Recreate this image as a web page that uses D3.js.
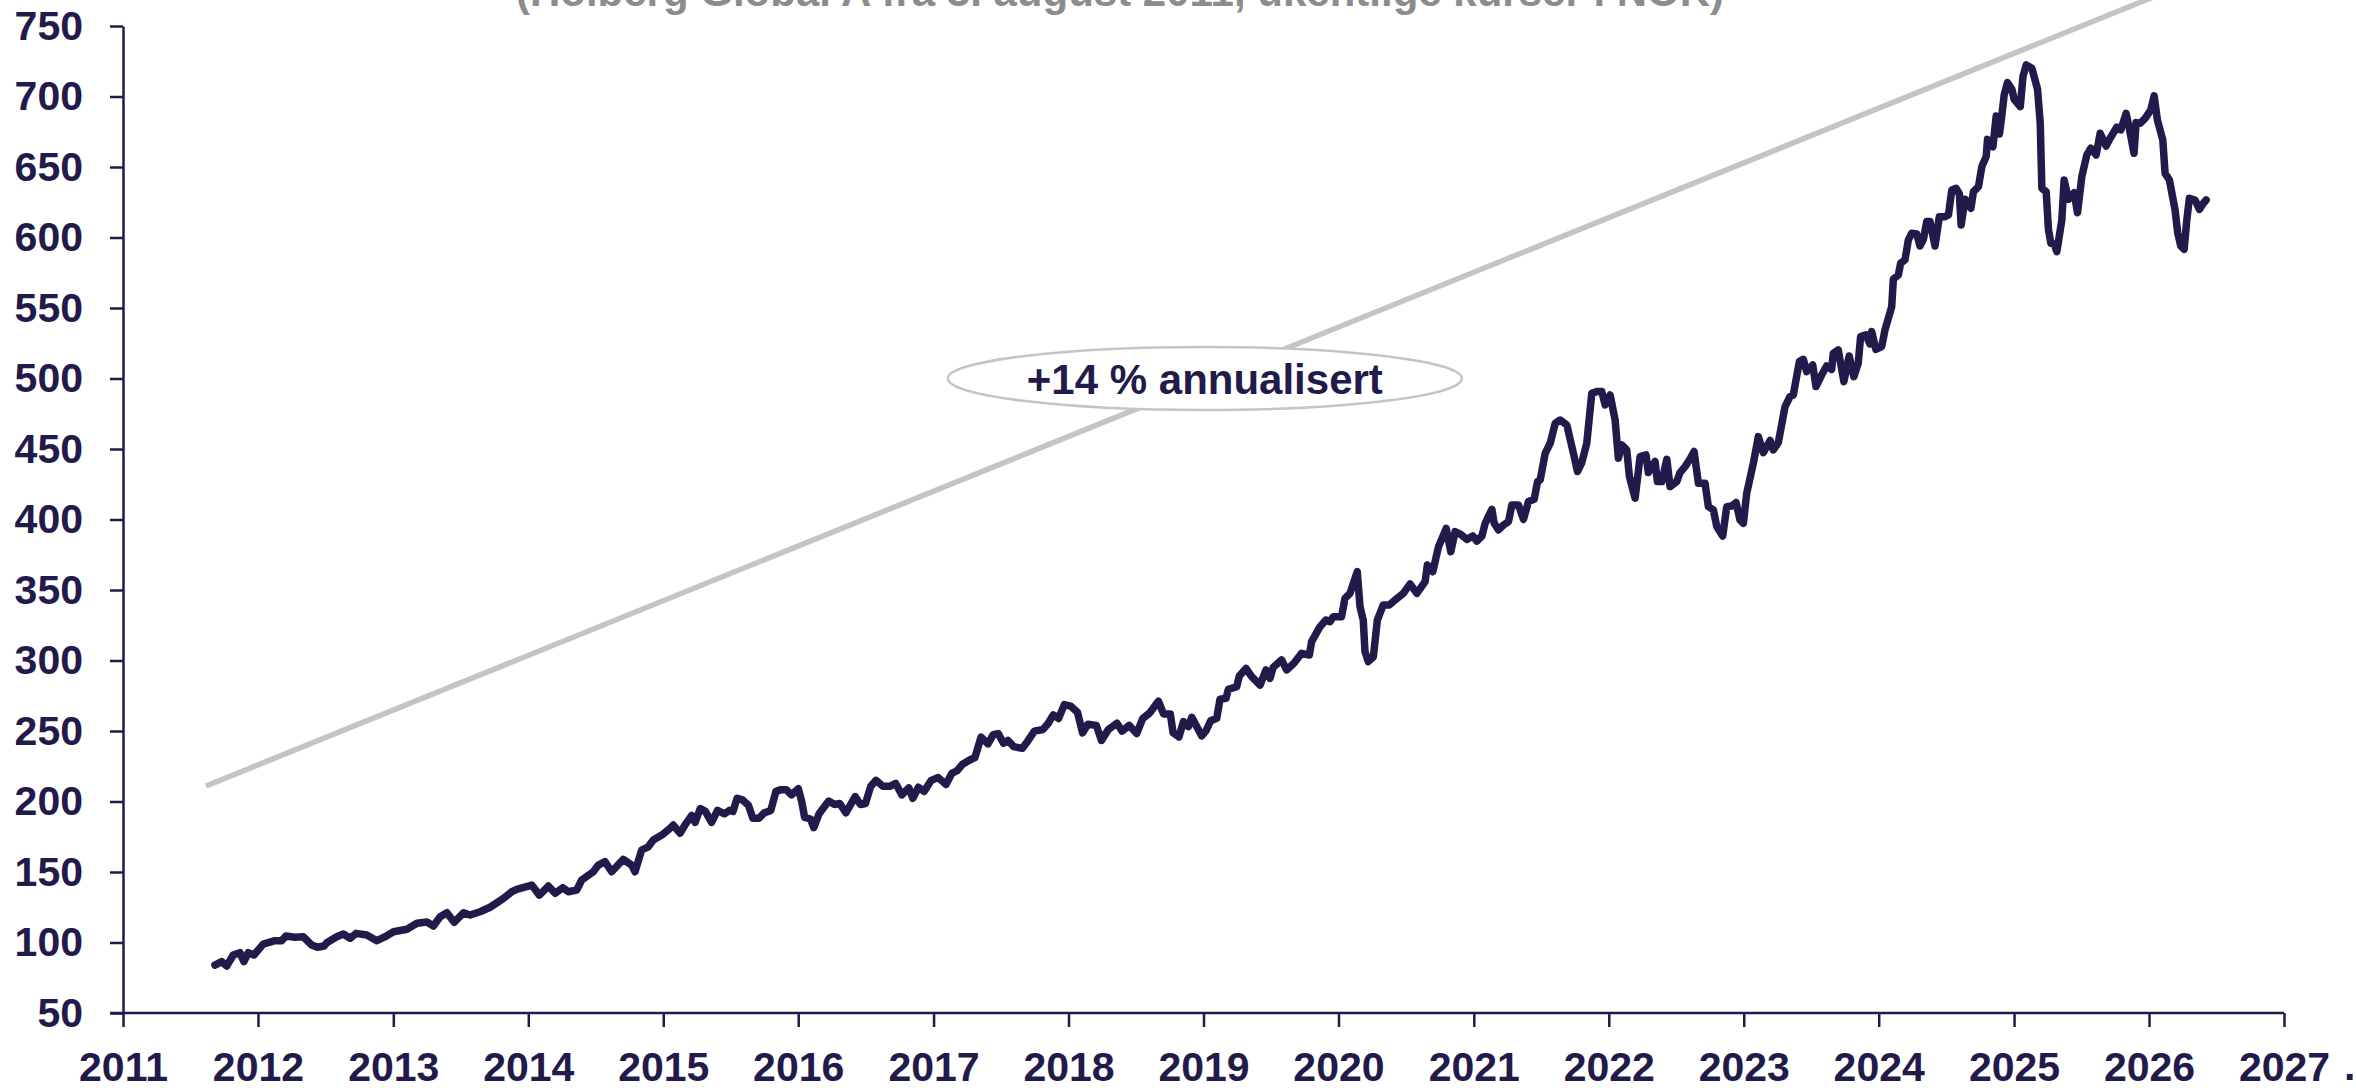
<!DOCTYPE html>
<html>
<head>
<meta charset="utf-8">
<script src="https://cdn.jsdelivr.net/npm/d3@7"></script>
<style>
    body { margin: 0; background: #ffffff; }
    #chart { width: 2356px; height: 1088px; }
</style>
</head>
<body>
<div id="chart"></div>
<script>
// Holberg Global A, weekly prices, x as decimal years
const subtitle = '(Holberg Global A fra 3. august 2011, ukentlige kurser i NOK)';
const annotationText = '+14 % annualisert';

const weekYears = [
    2011.681, 2011.731, 2011.768, 2011.817, 2011.866, 2011.896, 2011.928, 2011.970,
    2012.039, 2012.125, 2012.175, 2012.207, 2012.273, 2012.335, 2012.397, 2012.439, 2012.488, 2012.508, 2012.582, 2012.631, 2012.681, 2012.725, 2012.804, 2012.878, 2012.940,
    2013.001, 2013.101, 2013.175, 2013.249, 2013.297, 2013.347, 2013.397, 2013.451, 2013.520, 2013.569, 2013.643, 2013.717, 2013.779, 2013.816, 2013.878, 2013.915,
    2014.026, 2014.082, 2014.149, 2014.199, 2014.256, 2014.297, 2014.359, 2014.396, 2014.482, 2014.519, 2014.569, 2014.618, 2014.704, 2014.766, 2014.791, 2014.840, 2014.889, 2014.926, 2014.989,
    2015.050, 2015.074, 2015.124, 2015.160, 2015.211, 2015.236, 2015.274, 2015.312, 2015.358, 2015.402, 2015.453, 2015.491, 2015.517, 2015.547, 2015.588, 2015.631, 2015.664, 2015.708, 2015.746, 2015.797, 2015.835, 2015.873, 2015.911, 2015.950,
    2016.001, 2016.026, 2016.047, 2016.090, 2016.115, 2016.154, 2016.225, 2016.269, 2016.307, 2016.352, 2016.421, 2016.460, 2016.497, 2016.536, 2016.575, 2016.626, 2016.677, 2016.720, 2016.766, 2016.817, 2016.847, 2016.888, 2016.931, 2016.983,
    2017.034, 2017.092, 2017.135, 2017.174, 2017.212, 2017.271, 2017.306, 2017.352, 2017.403, 2017.442, 2017.479, 2017.518, 2017.551, 2017.594, 2017.658, 2017.696, 2017.747, 2017.811, 2017.850, 2017.887, 2017.926, 2017.969,
    2018.015, 2018.066, 2018.104, 2018.143, 2018.206, 2018.244, 2018.295, 2018.359, 2018.397, 2018.449, 2018.505, 2018.550, 2018.601, 2018.666, 2018.704, 2018.754, 2018.775, 2018.818, 2018.851, 2018.888, 2018.913, 2018.950, 2018.987,
    2019.019, 2019.053, 2019.098, 2019.122, 2019.167, 2019.184, 2019.246, 2019.265, 2019.315, 2019.357, 2019.419, 2019.463, 2019.493, 2019.517, 2019.579, 2019.616, 2019.670, 2019.727, 2019.784, 2019.801, 2019.863, 2019.907, 2019.937, 2019.961,
    2020.023, 2020.048, 2020.085, 2020.139, 2020.159, 2020.183, 2020.196, 2020.220, 2020.258, 2020.287, 2020.331, 2020.376, 2020.418, 2020.479, 2020.529, 2020.579, 2020.640, 2020.657, 2020.697, 2020.739, 2020.776, 2020.796, 2020.830, 2020.862, 2020.899, 2020.949, 2020.993,
    2021.023, 2021.060, 2021.084, 2021.134, 2021.151, 2021.183, 2021.220, 2021.257, 2021.282, 2021.331, 2021.368, 2021.405, 2021.447, 2021.472, 2021.492, 2021.529, 2021.566, 2021.603, 2021.640, 2021.689, 2021.738, 2021.768, 2021.800, 2021.837, 2021.874, 2021.911, 2021.948, 2021.973,
    2022.010, 2022.047, 2022.071, 2022.096, 2022.133, 2022.153, 2022.195, 2022.232, 2022.276, 2022.293, 2022.343, 2022.360, 2022.393, 2022.430, 2022.454, 2022.504, 2022.528, 2022.565, 2022.597, 2022.632, 2022.664, 2022.713, 2022.738, 2022.775, 2022.800, 2022.844, 2022.874, 2022.911, 2022.943, 2022.972, 2022.997,
    2023.022, 2023.071, 2023.108, 2023.145, 2023.195, 2023.219, 2023.256, 2023.306, 2023.343, 2023.367, 2023.412, 2023.441, 2023.466, 2023.511, 2023.535, 2023.577, 2023.614, 2023.651, 2023.663, 2023.700, 2023.742, 2023.781, 2023.816, 2023.848, 2023.866, 2023.905, 2023.935, 2023.948, 2023.979,
    2024.022, 2024.046, 2024.096, 2024.108, 2024.145, 2024.162, 2024.194, 2024.219, 2024.244, 2024.281, 2024.305, 2024.330, 2024.355, 2024.379, 2024.416, 2024.448, 2024.490, 2024.515, 2024.540, 2024.572, 2024.596, 2024.609, 2024.638, 2024.681, 2024.700, 2024.737, 2024.762, 2024.794, 2024.804, 2024.844, 2024.868, 2024.892, 2024.910, 2024.927, 2024.951, 2024.984,
    2025.001, 2025.046, 2025.066, 2025.090, 2025.132, 2025.174, 2025.194, 2025.206, 2025.238, 2025.255, 2025.273, 2025.297, 2025.317, 2025.354, 2025.371, 2025.403, 2025.445, 2025.470, 2025.502, 2025.539, 2025.569, 2025.608, 2025.638, 2025.682, 2025.712, 2025.761, 2025.791, 2025.830, 2025.855, 2025.889, 2025.904, 2025.934, 2025.971,
    2026.013, 2026.038, 2026.062, 2026.102, 2026.119, 2026.151, 2026.193, 2026.213, 2026.235, 2026.260, 2026.280, 2026.299, 2026.341, 2026.373, 2026.403, 2026.423
];

const weekValues = [
    84, 86.4, 83.3, 91.1, 92.8, 86.4, 92.8, 91.1,
    98.9, 101.3, 101.3, 104.6, 103.7, 104.1, 98.2, 96.6, 97.5, 99.8, 104.1, 106, 103, 106.5, 105.3, 101.3, 104.1,
    107.6, 109.4, 113.6, 114.5, 111.7, 118.3, 121.1, 114.3, 121.1, 119.5, 121.8, 125, 128.9, 131.3, 136, 137.7,
    140.7, 133.6, 140, 134.9, 138.9, 136, 137.2, 144.3, 150.2, 154.9, 157.3, 150.2, 159, 154.9, 150.2, 165.6, 167.9, 172.7, 176.2,
    181, 183.3, 177.5, 183.2, 190.1, 185.2, 195, 193, 185.2, 193.7, 191.3, 193.7, 193, 202.3, 201.1, 197.4, 188.1, 188.1, 191.8, 193.7, 207.2, 208.4, 208.4, 204.7,
    209.1, 199.8, 188.8, 187.6, 181.5, 191.3, 200.3, 197.9, 198.6, 192, 203.5, 197.9, 198.6, 210.8, 215, 210.8, 210.8, 212.8, 204.7, 209.6, 202.3, 210.1, 207.2, 215,
    217, 212.1, 219.9, 221.8, 226.2, 229.6, 231.1, 245.7, 240.9, 247.4, 248.2, 241.3, 243.3, 238.9, 237.7, 242.6, 249.9, 251.1, 255.5, 261.4, 258.9, 268.7,
    267.7, 263.3, 248.7, 254.8, 254, 243.3, 251.1, 255.5, 249.9, 254, 248.2, 258.9, 262.8, 271.1, 262.1, 262.1, 248.7, 245.7, 256.6, 253.1, 259.7, 253.1, 246.5,
    250.2, 257.3, 259, 272.5, 273.2, 279.5, 281.4, 289, 294.4, 288.5, 282.6, 293.3, 287.4, 295.2, 300.4, 293.3, 298, 305.1, 303.9, 313.4, 324, 328.7, 327.5, 331.1,
    331.1, 344.1, 347.6, 363, 338.2, 328.7, 306.3, 299.2, 302.7, 328.7, 339.4, 339.4, 342.9, 347.6, 354.3, 347.6, 355.9, 367.7, 363, 380.7, 389, 393.7, 377.2, 391.4, 389.7, 385.9, 388.3,
    384.7, 388.3, 397.3, 407.2, 397.3, 392.6, 396.1, 398.5, 410.3, 410.3, 400.1, 412.7, 414.3, 426.8, 428.1, 447, 454.1, 468.2, 470.6, 467.1, 447, 434, 440.3, 454.1, 489.5, 490.7, 490.7, 481.3,
    488.3, 470.6, 443.4, 452.9, 449.3, 430.4, 415.1, 444.6, 445.8, 433.3, 441.1, 426.9, 426.9, 442.7, 423.3, 426.9, 433.3, 437.5, 442.2, 448.2, 425.7, 425.7, 409.1, 406.8, 395, 388.3, 409.1, 409.6, 412, 399.7, 397.3,
    418.6, 439.9, 458.8, 447.4, 456, 449.3, 454.5, 480.1, 487.2, 488.3, 512, 513.6, 504.9, 509.6, 494.3, 502.5, 508.9, 506.5, 517.9, 520.3, 497.8, 516, 501.3, 510.8, 529.7, 530.9, 524.5, 533.3, 520.7,
    522.6, 534.4, 551, 570.4, 573.4, 581.7, 584.1, 598.3, 603, 602.5, 594, 598.7, 611.3, 611.3, 594, 614.8, 614.8, 616, 633.7, 634.9, 630.9, 608.9, 627.1, 620.7, 632.5, 636.1, 650.3, 657.4, 669.6, 664.4, 686.2, 673.4, 686.9, 701.1, 709.8, 705.1,
    698, 692.8, 714.1, 722.4, 720, 705.1, 681, 634.9, 632.5, 605.4, 595.9, 595.4, 590, 612.5, 640.8, 627.1, 631.8, 617.6, 643.2, 658.5, 663.3, 658.5, 673.9, 664.9, 670.4, 678.2, 676.3, 688.1, 676.7, 659.7, 681.5, 681, 684.5,
    690.5, 700.4, 683.4, 669.2, 645.5, 640.8, 619.5, 603, 594, 591.6, 612.5, 627.8, 626.6, 620, 624.3, 626.6
];

// Grey trend line (start / end), and the ellipse position
const trendYears = [2011.615, 2026.3];
const trendValues = [211, 781];
const annotationYear = 2019.01;
const annotationValue = 500;

// Axis ticks
const yearTicks = d3.range(2011, 2028);
const valueTicks = d3.range(50, 751, 50);

// decimal year -> Date
function toDate(y) {
    const yr = Math.floor(y);
    const start = new Date(yr, 0, 1);
    const end = new Date(yr + 1, 0, 1);
    return new Date(+start + (y - yr) * (end - start));
}

const W = 2356, H = 1088;
const navy = '#211a4a';
const font = '"Liberation Sans", Arial, sans-serif';

const svg = d3.select('#chart')
    .append('svg')
    .attr('width', W)
    .attr('height', H)
    .style('display', 'block');

// Scales
const x = d3.scaleTime()
    .domain([toDate(2011), toDate(2027)])
    .range([123, 2284]);

const y = d3.scaleLinear()
    .domain([50, 750])
    .range([1013, 26]);

// Title (cut off at the top in the original)
svg.append('text')
    .attr('x', 1120)
    .attr('y', 6)
    .attr('text-anchor', 'middle')
    .style('font-family', font)
    .style('font-weight', 'bold')
    .style('font-size', '42px')
    .style('fill', '#8c8c8c')
    .text(subtitle);

// Y axis
const yAxis = svg.append('g')
    .attr('transform', `translate(${x(toDate(2011))},0)`)
    .call(d3.axisLeft(y)
        .tickValues(valueTicks)
        .tickSize(13)
        .tickPadding(27)
        .tickSizeOuter(0));

// X axis
const xAxis = svg.append('g')
    .attr('transform', `translate(0,${y(50)})`)
    .call(d3.axisBottom(x)
        .tickValues(yearTicks.map(toDate))
        .tickFormat(d3.timeFormat('%Y'))
        .tickSize(14)
        .tickPadding(25)
        .tickSizeOuter(0));

// extend x axis line to the left so it meets the 50 tick
xAxis.select('.domain')
    .attr('d', `M${x(toDate(2011)) - 13},0H${x(toDate(2027))}`);

[yAxis, xAxis].forEach(ax => {
    ax.selectAll('.domain, line')
        .attr('stroke', navy)
        .attr('stroke-width', 2.5);
    ax.selectAll('text')
        .style('font-family', font)
        .style('font-weight', 'bold')
        .style('font-size', '41px')
        .style('fill', navy);
});

// Trend line
const trendLine = d3.line()
    .x(d => x(toDate(d[0])))
    .y(d => y(d[1]));

svg.append('path')
    .datum(d3.zip(trendYears, trendValues))
    .attr('d', trendLine)
    .attr('fill', 'none')
    .attr('stroke', '#c4c4c4')
    .attr('stroke-width', 5.5);

// Price line
const series = d3.zip(weekYears, weekValues);

const line = d3.line()
    .x(d => x(toDate(d[0])))
    .y(d => y(d[1]));

svg.append('path')
    .datum(series)
    .attr('d', line)
    .attr('fill', 'none')
    .attr('stroke', navy)
    .attr('stroke-width', 7.5)
    .attr('stroke-linejoin', 'round')
    .attr('stroke-linecap', 'round');

// Annotation ellipse
const ax0 = x(toDate(annotationYear));
const ay0 = y(annotationValue);

svg.append('ellipse')
    .attr('cx', ax0)
    .attr('cy', ay0)
    .attr('rx', 257)
    .attr('ry', 31.5)
    .attr('fill', '#ffffff')
    .attr('stroke', '#c4c4c4')
    .attr('stroke-width', 2.5);

svg.append('text')
    .attr('x', ax0)
    .attr('y', ay0)
    .attr('dy', '0.36em')
    .attr('text-anchor', 'middle')
    .style('font-family', font)
    .style('font-weight', 'bold')
    .style('font-size', '42px')
    .style('fill', navy)
    .text(annotationText);

// stray mark at the bottom right corner of the original
svg.append('text')
    .attr('x', W - 12)
    .attr('y', H - 8)
    .style('font-family', font)
    .style('font-weight', 'bold')
    .style('font-size', '41px')
    .style('fill', navy)
    .text('.');
</script>
</body>
</html>
